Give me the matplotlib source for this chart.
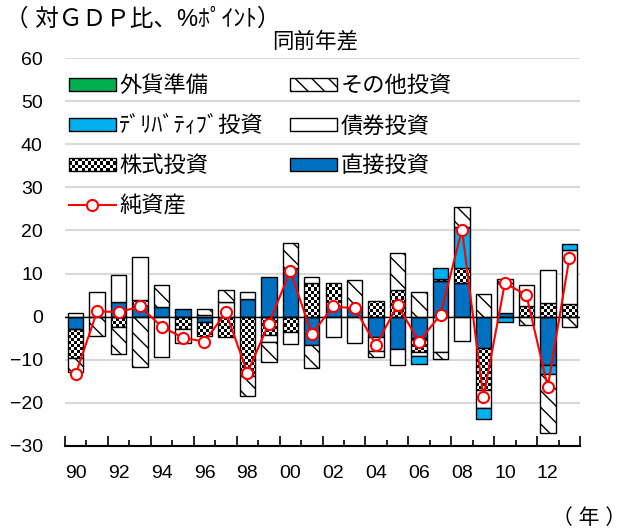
import numpy as np
import matplotlib
matplotlib.use("Agg")
import matplotlib.pyplot as plt
from matplotlib.patches import Patch, Rectangle
from matplotlib.lines import Line2D
from matplotlib.legend_handler import HandlerBase

plt.rcParams['font.family'] = ['Liberation Sans', 'Noto Sans CJK JP', 'DejaVu Sans']

# data, 1990 - 2013
years = list(range(1990, 2014))
tick_labels = ['90', '92', '94', '96', '98', '00', '02', '04', '06', '08', '10', '12']

direct = [-2.9, 0.0, 3.3, 2.4, 2.3, 1.7, -1.3, 0.0, 4.2, 9.2, 11.2, -6.6,
          2.5, 1.9, -4.7, -7.4, -5.0, 8.3, 7.9, -7.2, 0.9, 0.0, -11.2, 0.0]
equity = [-6.8, 0.0, -2.3, 1.5, 0.0, -2.9, -3.3, -4.8, -13.8, -4.3, -3.5, 7.7,
          5.4, 0.0, 3.6, 6.3, -3.2, 0.4, 3.4, -9.9, 0.0, 2.5, 3.2, 2.9]
bonds = [0.9, 5.7, 6.3, 10.0, -9.3, -3.1, 0.5, 3.4, 1.5, -1.5, -2.9, 1.5,
         -4.7, -6.0, -3.3, -3.9, -0.9, -8.1, -5.6, -4.2, 6.9, 4.8, 7.6, 12.5]
derivs = [0.0, 0.0, 0.0, 0.0, 0.0, 0.0, 0.0, 0.0, 0.0, 0.0, 0.0, 0.0,
          0.0, 0.0, 0.0, 0.0, -1.9, 2.5, 9.5, -2.5, -1.3, 0.0, -2.1, 1.4]
other = [-3.1, -4.4, -6.3, -11.6, 5.0, 0.0, 1.2, 2.7, -4.6, -4.6, 5.8, -5.2,
         0.0, 6.7, -1.4, 8.5, 5.8, -1.7, 4.7, 5.3, 1.0, -2.0, -13.8, -2.3]
reserves = [0.0] * 24
net_assets = [-13.3, 1.3, 1.0, 2.4, -2.3, -4.9, -5.8, 1.0, -13.0, -1.6, 10.6, -4.0,
              2.4, 1.9, -6.6, 2.7, -5.8, 0.5, 20.2, -18.7, 7.8, 5.0, -16.3, 13.5]

BLUE = '#0070C0'
LBLUE = '#00B0F0'
GREEN = '#00B050'

fig = plt.figure(figsize=(6.33, 5.32), dpi=100)
ax = fig.add_axes([65/633, 1-446/532, 515/633, 388/532])

x = np.arange(len(years))
w = 0.72
ymin, ymax = -30, 60

# checkerboard used to fill the equity bars
nx, ny = 172, 130
checker = np.add.outer(np.arange(ny), np.arange(nx)) % 2

styles = [
    (direct, dict(facecolor=BLUE)),
    (equity, dict(facecolor='none')),
    (bonds, dict(facecolor='white')),
    (derivs, dict(facecolor=LBLUE)),
    (other, dict(facecolor='white', hatch='\\\\')),
    (reserves, dict(facecolor=GREEN)),
]

pos = np.zeros(len(x))
neg = np.zeros(len(x))
for i, (vals, st) in enumerate(styles):
    v = np.array(vals)
    bottom = np.where(v >= 0, pos, neg)
    bars = ax.bar(x, v, w, bottom=bottom, edgecolor='black', linewidth=1.0,
                  zorder=3, **st)
    for p, val in zip(bars, v):
        if val == 0:
            p.set_visible(False)
        elif i == 1:
            im = ax.imshow(checker, extent=[-0.5, len(x)-0.5, ymin, ymax],
                           aspect='auto', cmap='gray_r', interpolation='nearest',
                           origin='lower', zorder=2.5)
            im.set_clip_path(p)
    pos += np.clip(v, 0, None)
    neg += np.clip(v, None, 0)

ax.axhline(0, color='black', lw=1.0, zorder=4)
ax.plot(x, net_assets, color='red', lw=1.5, marker='o', ms=8,
        mfc='white', mec='red', mew=1.5, zorder=5)

ax.set_xlim(-0.5, len(x)-0.5)
ax.set_ylim(ymin, ymax)
ax.set_yticks(range(ymin, ymax+1, 10))
ax.yaxis.grid(True, color='#d9d9d9', lw=1.5)
ax.set_axisbelow(True)
for s in ['top', 'right', 'left']:
    ax.spines[s].set_visible(False)
ax.spines['bottom'].set_linewidth(1.5)
ax.tick_params(axis='y', length=0, labelsize=14, pad=16)

# tick marks between categories, labels every two years
ax.set_xticks(np.arange(-0.5, len(x), 2))
ax.set_xticks(np.arange(0.5, len(x)-1, 2), minor=True)
ax.tick_params(axis='x', which='major', direction='in', length=7, width=1.2, labelbottom=False)
ax.tick_params(axis='x', which='minor', direction='in', length=4, width=1.2)
sec = ax.secondary_xaxis('bottom')
sec.set_xticks(x[::2], tick_labels)
sec.tick_params(length=0, labelsize=14, pad=14)
sec.spines['bottom'].set_visible(False)


class CheckerHandler(HandlerBase):
    def create_artists(self, legend, orig_handle, xdescent, ydescent,
                       width, height, fontsize, trans):
        arts = [Rectangle((-xdescent, -ydescent), width, height, facecolor='white',
                          edgecolor='black', lw=1, transform=trans)]
        n, m = 15, 4
        cw, ch = width / n, height / m
        for i in range(n):
            for j in range(m):
                if (i + j) % 2 == 0:
                    arts.append(Rectangle((-xdescent + i*cw, -ydescent + j*ch), cw, ch,
                                          facecolor='black', edgecolor='none', transform=trans))
        return arts


h_res = Patch(facecolor=GREEN, edgecolor='black')
h_oth = Patch(facecolor='white', edgecolor='black', hatch='\\\\')
h_der = Patch(facecolor=LBLUE, edgecolor='black')
h_bnd = Patch(facecolor='white', edgecolor='black')
h_eq = Patch(facecolor='white', edgecolor='black')
h_dir = Patch(facecolor=BLUE, edgecolor='black')
h_net = Line2D([], [], color='red', lw=1.5, marker='o', ms=8, mfc='white', mec='red', mew=1.5)

handles = [h_res, h_der, h_eq, h_net, h_oth, h_bnd, h_dir]
labels = ['外貨準備', 'ﾃﾞﾘﾊﾞﾃｨﾌﾞ投資', '株式投資', '純資産', 'その他投資', '債券投資', '直接投資']
ax.legend(handles, labels, loc='upper left', bbox_to_anchor=(0.008, 0.953), ncol=2,
          frameon=False, fontsize=16, handlelength=2.1, handleheight=0.55,
          handletextpad=0.15, labelspacing=0.86, columnspacing=1.2,
          borderpad=0, borderaxespad=0, handler_map={h_eq: CheckerHandler()})

fig.text(5/633, 1-20/532, '（ 対ＧＤＰ比、%ﾎﾟｲﾝﾄ）', ha='left', va='center', fontsize=17)
fig.text(315/633, 1-42/532, '同前年差', ha='center', va='center', fontsize=15.5)
fig.text(626/633, 1-518/532, '（ 年 ）', ha='right', va='center', fontsize=15)

fig.savefig('out.png', dpi=100)
